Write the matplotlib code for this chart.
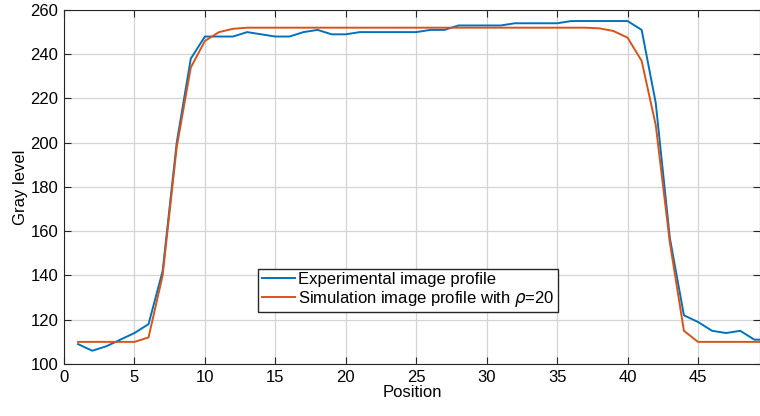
import numpy as np
import matplotlib.pyplot as plt

plt.rcParams['font.family'] = ['Liberation Sans', 'DejaVu Sans']

position = np.arange(1, 51)
experimental = [109, 106, 108, 111, 114, 118, 142, 200, 238, 248,
                248, 248, 250, 249, 248, 248, 250, 251, 249, 249,
                250, 250, 250, 250, 250, 251, 251, 253, 253, 253,
                253, 254, 254, 254, 254, 255, 255, 255, 255, 255,
                251, 218, 157, 122, 119, 115, 114, 115, 111, 111]
simulation = [110, 110, 110, 110, 110, 112, 140, 198, 234, 246,
              250, 251.5, 252, 252, 252, 252, 252, 252, 252, 252,
              252, 252, 252, 252, 252, 252, 252, 252, 252, 252,
              252, 252, 252, 252, 252, 252, 252, 251.7, 250.5, 247.5,
              237, 208, 155, 115, 110, 110, 110, 110, 110, 110]

fig = plt.figure(figsize=(7.6, 4.16), dpi=100)
ax = fig.add_axes([0.0842, 0.125, 0.9158, 0.851])

ax.plot(position, experimental, color='#0072BD', lw=1.4, label='Experimental image profile')
ax.plot(position, simulation, color='#D95319', lw=1.4, label=r'Simulation image profile with $\rho$=20')

ax.set_xlim(0, 49.4)
ax.set_ylim(100, 260)
ax.set_xticks(np.arange(0, 50, 5))
ax.set_yticks(np.arange(100, 261, 20))
ax.grid(True, color='#d4d4d4', lw=0.9)
ax.set_axisbelow(True)
ax.tick_params(direction='in', top=True, right=True, labelsize=12, length=5, color='#262626', pad=4)
for s in ax.spines.values():
    s.set_color('#262626')
ax.set_xlabel('Position', fontsize=12, labelpad=0)
ax.set_ylabel('Gray level', fontsize=12, labelpad=2)

leg = ax.legend(loc='lower left', bbox_to_anchor=(0.279, 0.147), fontsize=12,
                fancybox=False, framealpha=1, edgecolor='#262626',
                handlelength=2.0, handletextpad=0.2, borderpad=0.2, labelspacing=0.1,
                borderaxespad=0)
leg.get_frame().set_linewidth(1.0)

fig.savefig('out.png', dpi=100)
